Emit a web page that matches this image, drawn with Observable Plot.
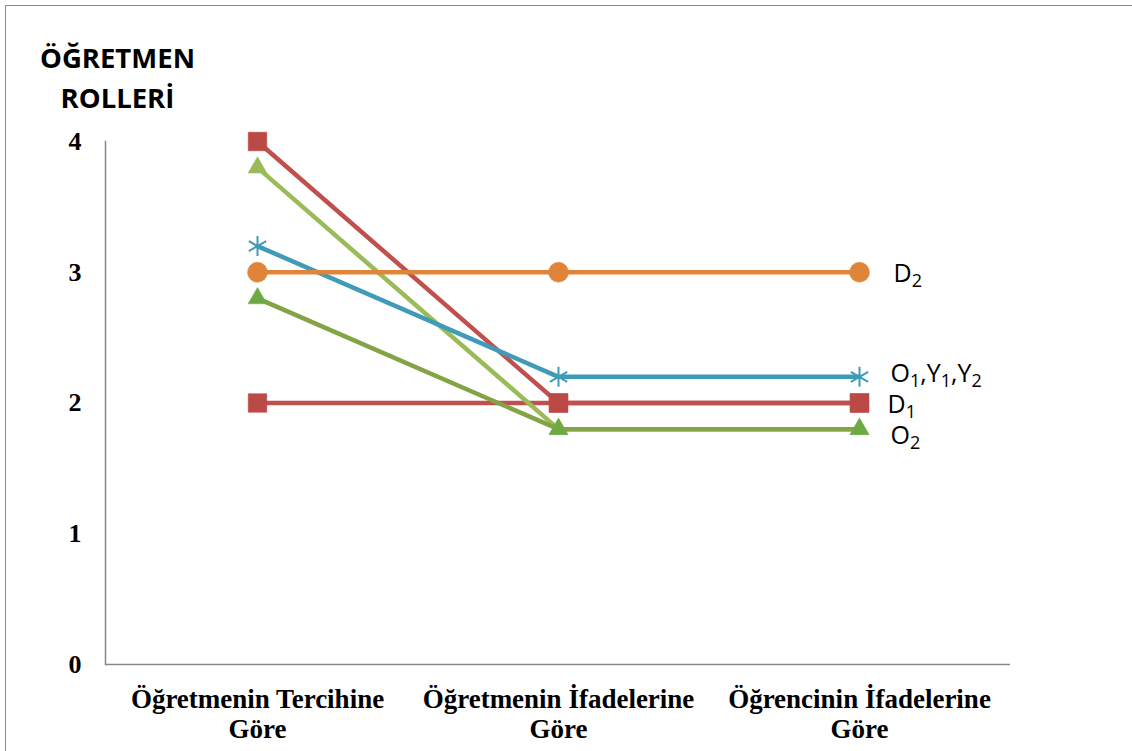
<!DOCTYPE html>
<html>
<head>
<meta charset="utf-8">
<script src="https://cdn.jsdelivr.net/npm/d3@7"></script>
<script src="https://cdn.jsdelivr.net/npm/@observablehq/plot@0.6"></script>
<style>
  html, body { margin: 0; padding: 0; background: #fff; }
  #wrap { position: relative; width: 1132px; height: 751px; overflow: hidden; }
  #border { position: absolute; left: 5px; top: 5px; width: 1200px; height: 800px;
            border-top: 1.5px solid #8a8a8a; border-left: 1.5px solid #8a8a8a; pointer-events: none; }
  svg { display: block; }
</style>
</head>
<body>
<div id="wrap"><div id="border"></div></div>
<script>
// ---- data ----
const categories = ["Öğretmenin Tercihine Göre", "Öğretmenin İfadelerine Göre", "Öğrencinin İfadelerine Göre"];
const yTicks = [0, 1, 2, 3, 4];
const seriesIds = ["D1a", "D1b", "O2a", "O2b", "O1Y1Y2", "D2"];
const valuesD1a = [2, 2, 2];
const valuesD1b = [4, 2, 2];
const valuesO2a = [3.8, 1.8, 1.8];
const valuesO2b = [2.8, 1.8, 1.8];
const valuesO1Y1Y2 = [3.2, 2.2, 2.2];
const valuesD2 = [3, 3, 3];
const labelTexts = ["D2", "O1,Y1,Y2", "D1", "O2"];
const labelValues = [3, 2.2, 2, 1.8];
const titleText = "ÖĞRETMEN\nROLLERİ";

// ---- styles ----
const lineColors = ["#C0504D", "#C0504D", "#9BBB59", "#83A345", "#3F9BB7", "#E0843A"];
const markColors = ["#BB4A47", "#BB4A47", "#9BBB59", "#6DAA45", "#3F9BB7", "#E0843A"];
const symbols = ["square", "square", "triangle", "triangle", "asterisk", "circle"];
const radii = [10.5, 10.5, 7, 7, 9.5, 10];
const labelDx = [34, 31, 28, 31];
const labelDy = [10, 5.5, 9.5, 14.5];

const allValues = [valuesD1a, valuesD1b, valuesO2a, valuesO2b, valuesO1Y1Y2, valuesD2];
const rows = seriesIds.map((id, s) => allValues[s].map((v, i) => ({series: s, cat: categories[i], v})));

const serif = "'Liberation Serif', 'Times New Roman', serif";
const sans = "'Open Sans', 'Liberation Sans', sans-serif";

const marks = [
  Plot.ruleY([0], {stroke: "#878787", strokeWidth: 1.5}),
  Plot.frame({anchor: "left", stroke: "#878787", strokeWidth: 1.5}),
  Plot.axisY({ticks: yTicks, tickSize: 0, tickPadding: 24, tickFormat: d => String(d), label: null,
              fontFamily: serif, fontWeight: "bold", fontSize: 26, fill: "#000"}),
  Plot.axisX({tickSize: 0, tickPadding: 22, tickFormat: d => d.replace(/ Göre$/, "\nGöre"), label: null,
              fontFamily: serif, fontWeight: "bold", fontSize: 27, lineHeight: 1.11, fill: "#000"}),
  Plot.text([titleText], {frameAnchor: "top-left", text: d => d, dx: 12, dy: -34, lineAnchor: "bottom",
              lineHeight: 1.42, textAnchor: "middle", fontFamily: sans, fontWeight: "bold", fontSize: 27.5, fill: "#000"})
];
rows.forEach((r, s) => {
  marks.push(Plot.line(r, {x: "cat", y: "v", stroke: lineColors[s], strokeWidth: 4.5, strokeLinejoin: "round"}));
  marks.push(Plot.dot(r, {x: "cat", y: "v", symbol: symbols[s], r: radii[s],
    fill: symbols[s] === "asterisk" ? "none" : markColors[s],
    stroke: markColors[s], strokeWidth: symbols[s] === "asterisk" ? 2 : 0.5}));
});
labelTexts.forEach((t, k) => {
  marks.push(Plot.text([k], {x: () => categories[2], y: () => labelValues[k], text: () => t,
    dx: labelDx[k], dy: labelDy[k], textAnchor: "start", lineAnchor: "bottom",
    fontFamily: sans, fontSize: 25, fill: "#000", className: "serieslabel"}));
});

const chart = Plot.plot({
  width: 1132, height: 751,
  marginLeft: 105, marginRight: 122, marginTop: 141, marginBottom: 87,
  x: {type: "point", domain: categories, padding: 0.5, label: null},
  y: {domain: [0, 4], label: null},
  style: {background: "transparent", overflow: "visible"},
  marks
});

// subscripts for series labels
chart.querySelectorAll(".serieslabel text").forEach(el => {
  const s = el.textContent;
  el.textContent = "";
  let sub = false;
  for (const ch of s) {
    const isDigit = /[0-9]/.test(ch);
    const ts = document.createElementNS("http://www.w3.org/2000/svg", "tspan");
    if (isDigit && !sub) { ts.setAttribute("dy", "5"); sub = true; }
    else if (!isDigit && sub) { ts.setAttribute("dy", "-5"); sub = false; }
    if (isDigit) ts.setAttribute("font-size", "18");
    ts.textContent = ch;
    el.appendChild(ts);
  }
});

document.getElementById("wrap").insertBefore(chart, document.getElementById("border"));
</script>
</body>
</html>
